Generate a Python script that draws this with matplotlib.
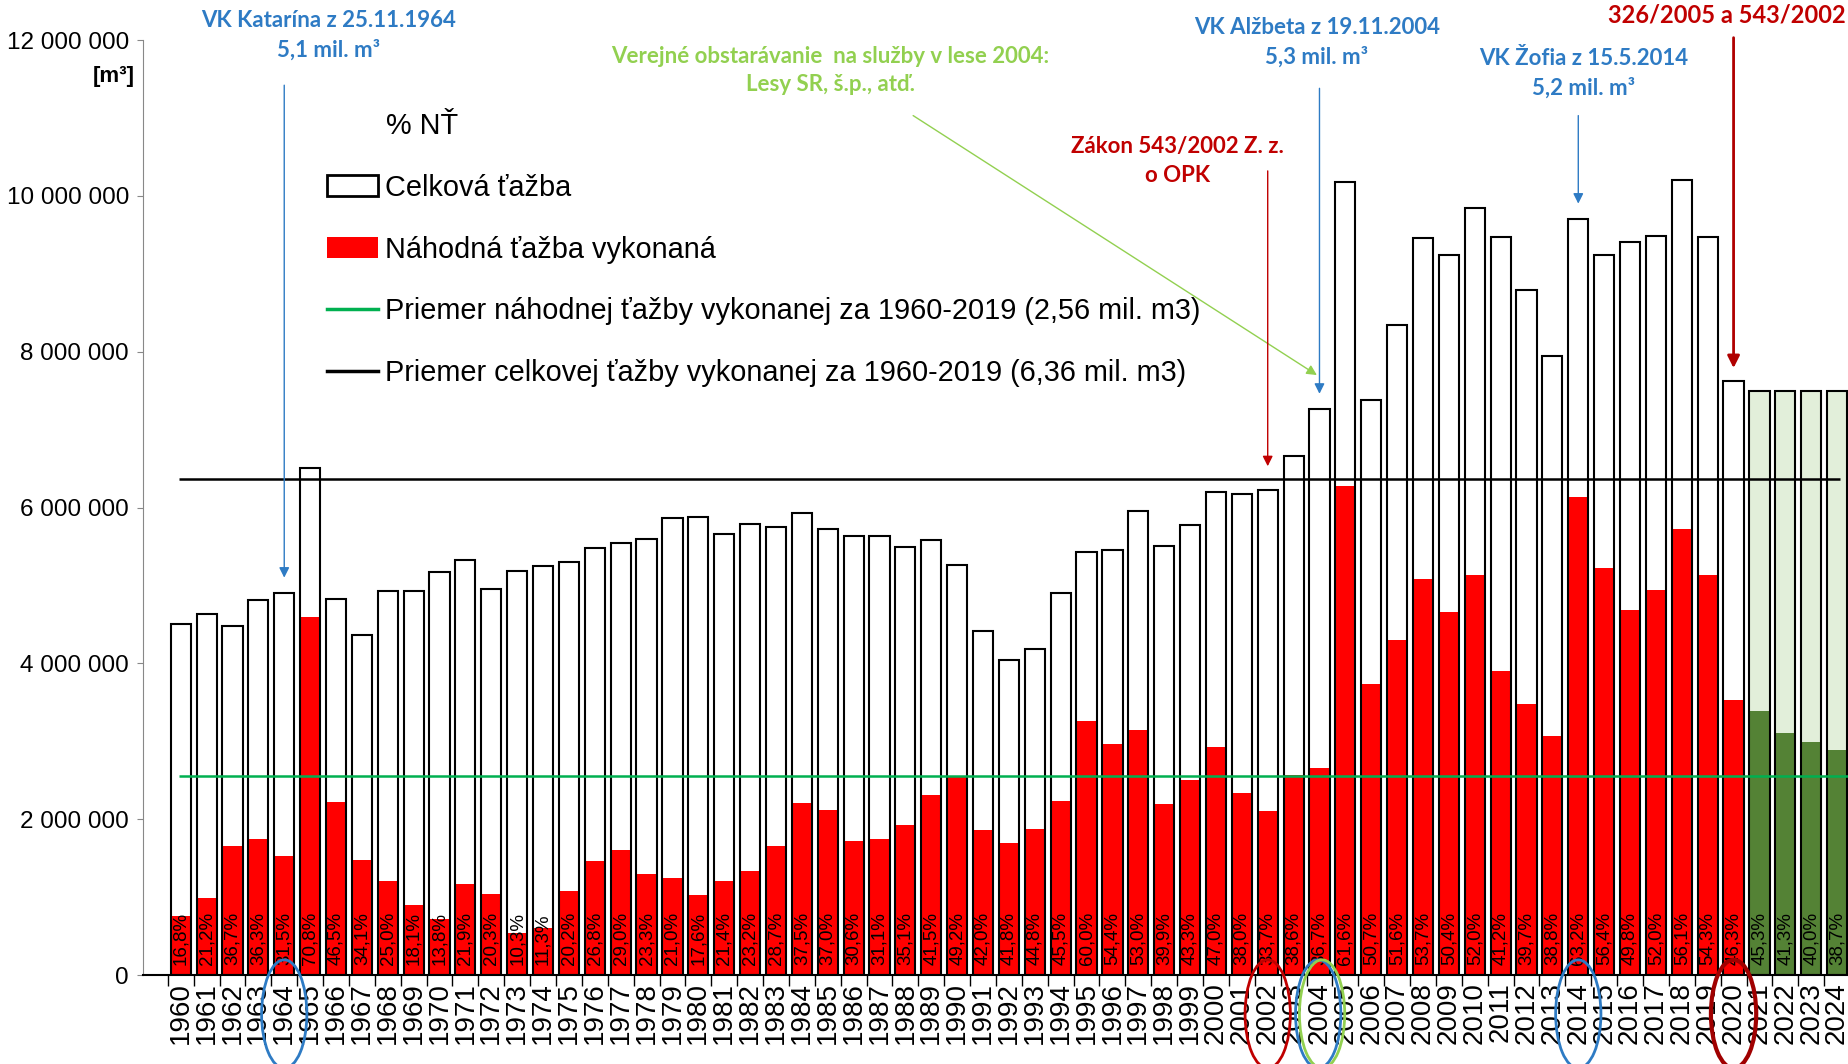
import matplotlib.pyplot as plt
from matplotlib.patches import Patch, Ellipse
from matplotlib.lines import Line2D

plt.rcParams['font.family'] = ['Liberation Sans', 'DejaVu Sans']

years = list(range(1960, 2025))

# celkova tazba, mil. m3 (odcitane z grafu)
total = [4.51, 4.63, 4.48, 4.81, 4.90, 6.51, 4.83, 4.37, 4.93, 4.93,
         5.17, 5.33, 4.96, 5.19, 5.25, 5.30, 5.48, 5.55, 5.60, 5.87,
         5.88, 5.66, 5.79, 5.75, 5.93, 5.73, 5.64, 5.63, 5.49, 5.58,
         5.26, 4.42, 4.04, 4.18, 4.90, 5.43, 5.46, 5.95, 5.51, 5.78,
         6.20, 6.17, 6.23, 6.66, 7.26, 10.18, 7.38, 8.34, 9.46, 9.24,
         9.85, 9.47, 8.79, 7.94, 9.70, 9.24, 9.41, 9.49, 10.20, 9.47,
         7.62, 7.49, 7.49, 7.49, 7.49]

# nahodna tazba, mil. m3
random_cut = [0.76, 0.99, 1.65, 1.74, 1.53, 4.60, 2.22, 1.48, 1.21, 0.90,
              0.72, 1.17, 1.04, 0.54, 0.60, 1.08, 1.47, 1.60, 1.30, 1.24,
              1.03, 1.21, 1.34, 1.65, 2.21, 2.12, 1.72, 1.74, 1.92, 2.31,
              2.54, 1.86, 1.69, 1.87, 2.23, 3.26, 2.97, 3.15, 2.20, 2.50,
              2.93, 2.34, 2.10, 2.57, 2.66, 6.27, 3.74, 4.30, 5.08, 4.66,
              5.13, 3.90, 3.48, 3.07, 6.13, 5.22, 4.69, 4.94, 5.72, 5.14,
              3.53, 3.39, 3.10, 2.99, 2.89]

pct = [16.8, 21.2, 36.7, 36.3, 31.5, 70.8, 46.5, 34.1, 25.0, 18.1,
       13.8, 21.9, 20.3, 10.3, 11.3, 20.2, 26.8, 29.0, 23.3, 21.0,
       17.6, 21.4, 23.2, 28.7, 37.5, 37.0, 30.6, 31.1, 35.1, 41.5,
       49.2, 42.0, 41.8, 44.8, 45.5, 60.0, 54.4, 53.0, 39.9, 43.3,
       47.0, 38.0, 33.7, 38.6, 36.7, 61.6, 50.7, 51.6, 53.7, 50.4,
       52.0, 41.2, 39.7, 38.8, 63.2, 56.4, 49.8, 52.0, 56.1, 54.3,
       46.3, 45.3, 41.3, 40.0, 38.7]

avg_random = 2.56
avg_total = 6.36
first_forecast = 2021

blue = '#2E7BC4'
lgreen = '#92D050'
dred = '#C00000'
calibri = ['Lato', 'DejaVu Sans']

x = list(range(len(years)))
tot_m3 = [v * 1e6 for v in total]
rnd_m3 = [v * 1e6 for v in random_cut]
tot_col = ['#E2EFDA' if y >= first_forecast else 'white' for y in years]
rnd_col = ['#548235' if y >= first_forecast else '#FF0000' for y in years]

fig = plt.figure(figsize=(18.49, 10.64), dpi=100)
ax = fig.add_axes([0.0773, 0.0836, 0.9227, 0.8788])

ax.bar(x, tot_m3, width=0.78, color=tot_col, edgecolor='none', zorder=1)
ax.bar(x, rnd_m3, width=0.78, color=rnd_col, edgecolor='none', zorder=2)
ax.bar(x, tot_m3, width=0.78, fill=False, edgecolor='black', linewidth=1.5, zorder=3)

ax.hlines(avg_total * 1e6, -0.05, 64.1, color='black', lw=1.8, zorder=4)
ax.hlines(avg_random * 1e6, -0.05, 64.5, color='#00B050', lw=1.8, zorder=4)

for i, p in enumerate(pct):
    ax.text(i, 0.13e6, f"{p:.1f}%".replace('.', ','), rotation=90,
            ha='center', va='bottom', fontsize=13.5, zorder=5)

ax.set_xlim(-1.46, 64.46)
ax.set_ylim(0, 12e6)
ax.set_xticks(x)
ax.set_xticklabels([str(y) for y in years], rotation=90, fontsize=20)
ax.set_xticks([i + 0.5 for i in range(-1, 64)], minor=True)
ax.tick_params(axis='x', which='major', length=0, pad=5)
ax.tick_params(axis='x', which='minor', length=8, width=1, color='black')

yt = list(range(0, 12000001, 2000000))
ax.set_yticks(yt)
ax.set_yticklabels([f"{v:,}".replace(',', ' ') for v in yt], fontsize=17.5)
ax.tick_params(axis='y', length=4, color='#888888', pad=6)

ax.spines['top'].set_visible(False)
ax.spines['right'].set_visible(False)
ax.spines['left'].set_color('#888888')
ax.spines['bottom'].set_linewidth(1.5)

ax.text(-0.005, 0.961, '[m³]', transform=ax.transAxes, ha='right', va='center',
        fontsize=16, fontweight='bold')

# legenda
handles = [Patch(facecolor='white', edgecolor='black', linewidth=2),
           Patch(facecolor='#FF0000', edgecolor='none'),
           Line2D([], [], color='#00B050', lw=2.5),
           Line2D([], [], color='black', lw=2.5)]
labels = ['Celková ťažba', 'Náhodná ťažba vykonaná',
          'Priemer náhodnej ťažby vykonanej za 1960-2019 (2,56 mil. m3)',
          'Priemer celkovej ťažby vykonanej za 1960-2019 (6,36 mil. m3)']
ax.legend(handles, labels, loc='upper left', bbox_to_anchor=(0.108, 0.857),
          frameon=False, fontsize=20.8, handlelength=1.75, handletextpad=0.25,
          labelspacing=1.17, borderpad=0, borderaxespad=0)
ax.text(0.1424, 0.908, '% NŤ', transform=ax.transAxes, ha='left', va='center', fontsize=20.8)

# anotacie
def note(txt, tx, ty, color, ha='center', fs=16):
    ax.text(tx, ty * 1e6, txt, ha=ha, va='center', color=color, fontsize=fs,
            fontweight='bold', family=calibri, linespacing=1.45, clip_on=False)

def arrow(x0, y0, x1, y1, color, lw=1.0, ms=15):
    ax.annotate('', xy=(x1, y1 * 1e6), xytext=(x0, y0 * 1e6), annotation_clip=False,
                arrowprops=dict(arrowstyle='-|>', color=color, lw=lw, mutation_scale=ms,
                                shrinkA=0, shrinkB=0), zorder=7)

i64 = years.index(1964)
i02 = years.index(2002)
i04 = years.index(2004)
i14 = years.index(2014)
i20 = years.index(2020)

note('VK Katarína z 25.11.1964\n5,1 mil. m³', 5.7, 12.06, blue)
arrow(i64, 11.42, i64, total[i64] + 0.2, blue)

note('Verejné obstarávanie  na služby v lese 2004:\nLesy SR, š.p., atď.', 25.1, 11.61, lgreen)
arrow(28.3, 11.03, i04 - 0.1, total[i04] + 0.44, lgreen)

note('VK Alžbeta z 19.11.2004\n5,3 mil. m³', 43.9, 11.97, blue)
arrow(i04, 11.38, i04, total[i04] + 0.2, blue)

note('Zákon 543/2002 Z. z.\no OPK', 38.5, 10.45, dred)
arrow(i02, 10.32, i02, total[i02] + 0.3, dred)

note('VK Žofia z 15.5.2014\n5,2 mil. m³', 54.2, 11.57, blue)
arrow(i14, 11.03, i14, total[i14] + 0.2, blue)

note('326/2005 a 543/2002', 64.35, 12.32, dred, ha='right', fs=17)
arrow(i20, 12.03, i20, total[i20] + 0.17, '#B00000', lw=2, ms=18)

# krúžky okolo rokov
rings = [(i64, blue, 2), (i02, dred, 2), (i04 - 0.05, blue, 2), (i04 + 0.1, lgreen, 2),
         (i14, blue, 2), (i20, '#A00000', 3)]
for xc, col, lw in rings:
    ax.add_patch(Ellipse((xc, -0.5e6), 1.75, 1.39e6, fill=False, edgecolor=col,
                         lw=lw, clip_on=False, zorder=6))

fig.savefig('out.png', dpi=100)
